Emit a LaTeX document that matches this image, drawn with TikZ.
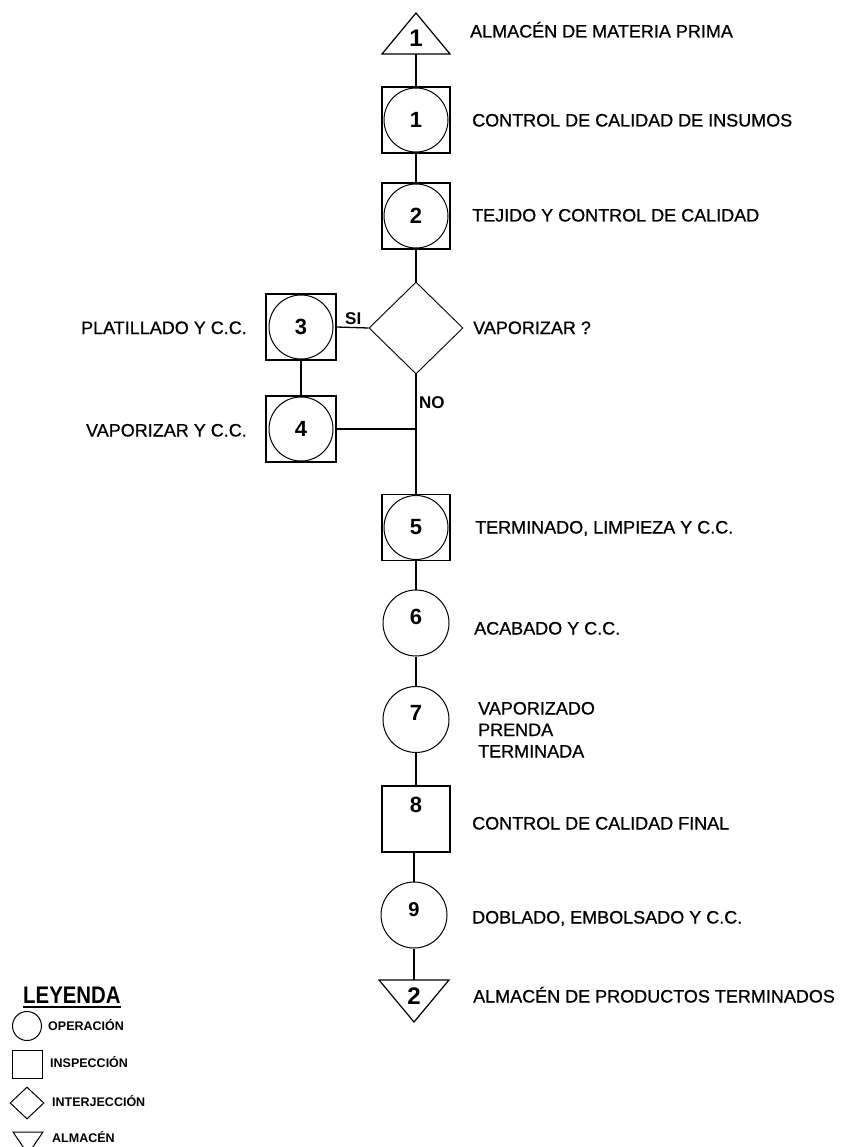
\documentclass[tikz,border=0pt]{standalone}
\usepackage{fontspec}
\setmainfont{Liberation Sans}
\newfontfamily\lblfont[FakeBold=0.7]{Liberation Sans}
\newfontfamily\legfont[FakeStretch=0.85]{Liberation Sans}
\usetikzlibrary{shapes.geometric}
\tikzset{
  insp/.style={draw, rectangle, line width=1.4pt, minimum width=68pt, minimum height=66pt, inner sep=0pt},
  oper/.style={draw, circle, line width=1.0pt, minimum size=66pt, inner sep=0pt},
  opin/.style={draw, circle, line width=1.0pt, minimum size=64pt, inner sep=0pt, font=\fontsize{22}{22}\selectfont\bfseries},
  numtxt/.style={inner sep=0pt, font=\fontsize{22}{22}\selectfont\bfseries},
  link/.style={line width=1.3pt},
  lbl/.style={anchor=base west, inner sep=0pt, font=\lblfont\fontsize{18}{21.5}\selectfont},
  lble/.style={anchor=base east, inner sep=0pt, font=\lblfont\fontsize{18}{21.5}\selectfont},
  yn/.style={anchor=base west, inner sep=0pt, font=\fontsize{17}{17}\selectfont\bfseries},
  legtxt/.style={anchor=base west, inner sep=0pt, font=\fontsize{12.5}{12.5}\selectfont\bfseries},
  legshape/.style={draw, inner sep=0pt, line width=1pt},
}
\begin{document}
\begin{tikzpicture}[x=1pt,y=-1pt]
\useasboundingbox (0,0) rectangle (847,1147);

% storage 1
\coordinate (T1top) at (416,13);
\coordinate (T1l) at (382,54);
\coordinate (T1r) at (450,54);
\coordinate (T1b) at (416,54);
\draw[line width=1.2pt] (T1top) -- (T1r) -- (T1l) -- cycle;
\node[numtxt, font=\fontsize{24}{24}\selectfont\bfseries] (N0) at (416,38) {1};

% combined operation-inspection 1, 2
\node[insp] (B1) at (416,120) {};
\node[opin] (C1) at (416,120) {1};
\node[insp] (B2) at (416,216) {};
\node[opin] (C2) at (416,216) {2};

% decision
\node[draw, diamond, line width=0.9pt, minimum width=94pt, minimum height=92pt, inner sep=0pt] (D) at (416,328) {};

% 3, 4
\node[insp, minimum width=70pt] (B3) at (301,327) {};
\node[opin] (C3) at (301,327) {3};
\node[insp, minimum width=70pt] (B4) at (301,429) {};
\node[opin] (C4) at (301,429) {4};

% 5
\node[insp] (B5) at (416,527.5) {};
\node[opin] (C5) at (416,527.5) {5};

% 6, 7
\node[oper] (C6) at (416,623) {};
\node[numtxt] (N6) at (416,617) {6};
\node[oper] (C7) at (416,719.5) {};
\node[numtxt] (N7) at (416,713) {7};

% 8
\node[insp] (B8) at (416,819) {};
\node[numtxt] (N8) at (416,805) {8};

% 9
\node[oper] (C9) at (414,915) {};
\node[numtxt, font=\fontsize{20}{20}\selectfont\bfseries] (N9) at (414,910) {9};

% storage 2
\coordinate (T2top) at (414,980);
\coordinate (T2l) at (379,980);
\coordinate (T2r) at (449,980);
\coordinate (T2a) at (414,1022);
\draw[line width=1.2pt] (T2l) -- (T2r) -- (T2a) -- cycle;
\node[numtxt, font=\fontsize{24}{24}\selectfont\bfseries] (N10) at (414,996) {2};

% connectors
\draw[link] (T1b) -- (B1.north);
\draw[link] (B1.south) -- (B2.north);
\draw[link] (B2.south) -- (D.north);
\draw[link] (B3.east) -- (D.west);
\draw[link] (B3.south) -- (B4.north);
\draw[link] (D.south) -- (B5.north);
\coordinate (J) at (B4.east -| D.south);
\draw[link] (B4.east) -- (J);
\draw[link] (B5.south) -- (C6.north);
\draw[link] (C6.south) -- (C7.north);
\draw[link] (C7.south) -- (B8.north);
\draw[link] (C9.north) -- (B8.south -| C9.north);
\draw[link] (C9.south) -- (T2top);

% yes / no
\node[yn] (SI) at (345,324) {SI};
\node[yn] (NO) at (419,408) {NO};

% labels
\node[lbl] (L0) at (470,37.5) {ALMACÉN DE MATERIA PRIMA};
\node[lbl] (L1) at (472,126.5) {CONTROL DE CALIDAD DE INSUMOS};
\node[lbl] (L2) at (472,221.5) {TEJIDO Y CONTROL DE CALIDAD};
\node[lbl] (LD) at (473,334) {VAPORIZAR ?};
\node[lble] (L3) at (247,334) {PLATILLADO Y C.C.};
\node[lble] (L4) at (247,436.5) {VAPORIZAR Y C.C.};
\node[lbl] (L5) at (475,533.5) {TERMINADO, LIMPIEZA Y C.C.};
\node[lbl] (L6) at (474,634.5) {ACABADO Y C.C.};
\node[lbl, align=left] (L7) at (478,757.5) {VAPORIZADO\\PRENDA\\TERMINADA};
\node[lbl] (L8) at (472,829.5) {CONTROL DE CALIDAD FINAL};
\node[lbl] (L9) at (472,923.5) {DOBLADO, EMBOLSADO Y C.C.};
\node[lbl] (L10) at (473,1002.5) {ALMACÉN DE PRODUCTOS TERMINADOS};

% legend
\node[anchor=base west, inner sep=0pt, font=\legfont\fontsize{24}{24}\selectfont\bfseries] (LEY) at (23,1003) {LEYENDA};
\draw[line width=1.8pt] ([yshift=-4pt]LEY.base west) -- ([yshift=-4pt]LEY.base east);
\node[legshape, circle, minimum size=29pt] (LC) at (27,1026) {};
\node[legtxt] (LT1) at (48,1030.5) {OPERACIÓN};
\node[legshape, rectangle, minimum width=30pt, minimum height=28pt] (LS) at (27,1064) {};
\node[legtxt] (LT2) at (50,1067.5) {INSPECCIÓN};
\node[legshape, diamond, minimum width=34pt, minimum height=32pt] (LDm) at (27,1103) {};
\node[legtxt] (LT3) at (52,1106.5) {INTERJECCIÓN};
\coordinate (LTa) at (13,1132);
\coordinate (LTb) at (43,1132);
\coordinate (LTc) at (28,1154);
\draw[line width=1pt] (LTa) -- (LTb) -- (LTc) -- cycle;
\node[legtxt] (LT4) at (52,1142.5) {ALMACÉN};
\end{tikzpicture}
\end{document}
